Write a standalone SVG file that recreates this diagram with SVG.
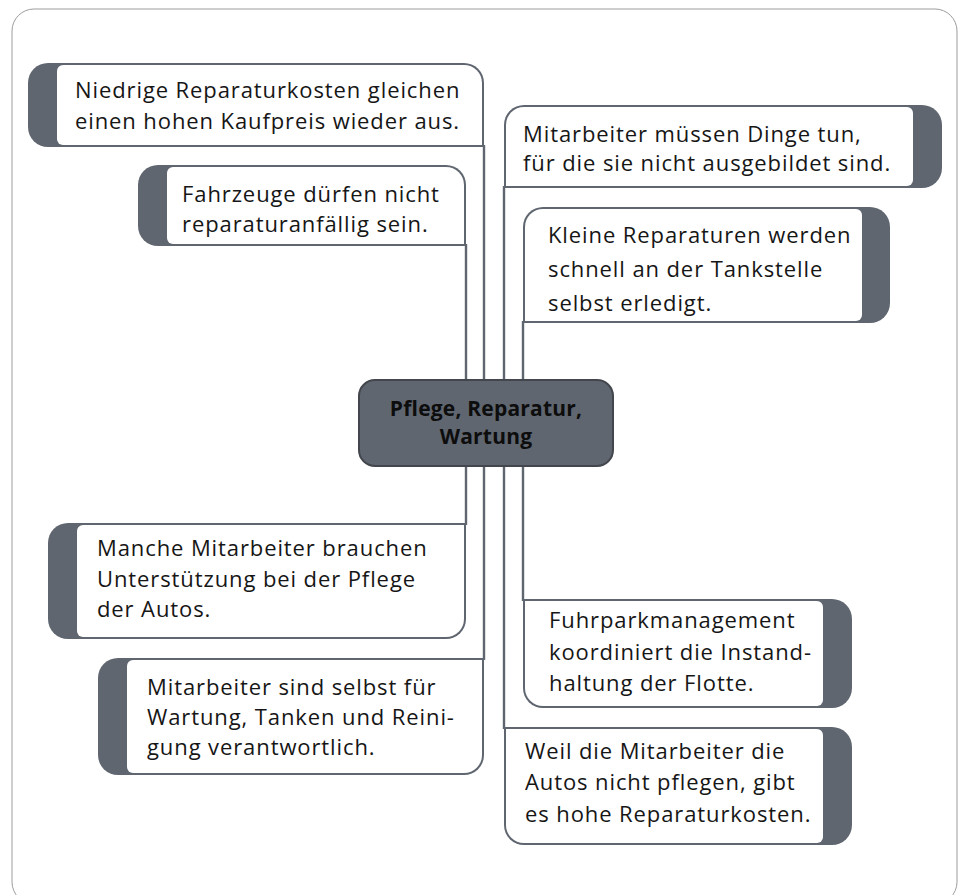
<svg xmlns="http://www.w3.org/2000/svg" width="962" height="895" viewBox="0 0 962 895">
  <style>
    .tab { fill: #5f6670; }
    .face { fill: #ffffff; }
    .wire { stroke: #5f6670; stroke-width: 2.4; fill: none; }
    .txt { font-family: "Open Sans", "Noto Sans", sans-serif; font-size: 22px; letter-spacing: 0.9px; fill: #161616; }
    .hub { fill: #5f6670; stroke: #43474d; stroke-width: 2; }
    .hubtxt { font-family: "Open Sans", "Noto Sans", sans-serif; font-size: 21px; font-weight: bold; letter-spacing: 0.2px; fill: #0d0d0d; text-anchor: middle; }
  </style>

  <!-- outer frame -->
  <rect x="12" y="9" width="945" height="895" rx="22" ry="22" fill="#ffffff" stroke="#9c9c9c" stroke-width="1"/>

  <!-- connectors -->
  <g id="connectors" class="wire">
    <line x1="466" y1="244" x2="466" y2="381"/>
    <line x1="466" y1="465" x2="466" y2="525"/>
    <line x1="484" y1="145" x2="484" y2="381"/>
    <line x1="484" y1="465" x2="484" y2="660"/>
    <line x1="504" y1="186" x2="504" y2="381"/>
    <line x1="504" y1="465" x2="504" y2="729"/>
    <line x1="523" y1="321" x2="523" y2="381"/>
    <line x1="523" y1="465" x2="523" y2="601"/>
  </g>

  <!-- central topic -->
  <g id="center">
    <rect class="hub" x="359" y="380" width="254" height="86" rx="16" ry="16"/>
    <text class="hubtxt" x="486" y="416">Pflege, Reparatur,</text>
    <text class="hubtxt" x="486" y="444">Wartung</text>
  </g>

  <!-- left branches -->
  <g id="node-niedrige">
    <path class="tab" d="M484,147 L484,83 A20,20 0 0 0 464,63 L48,63 A20,20 0 0 0 28,83 L28,127 A20,20 0 0 0 48,147 Z"/>
    <path class="face" d="M482,145 L482,83 A18,18 0 0 0 464,65 L63,65 A6,6 0 0 0 57,71 L57,139 A6,6 0 0 0 63,145 Z"/>
    <text class="txt" x="75" y="98">Niedrige Reparaturkosten gleichen</text>
    <text class="txt" x="75" y="129">einen hohen Kaufpreis wieder aus.</text>
  </g>

  <g id="node-fahrzeuge">
    <path class="tab" d="M466,246 L466,185 A20,20 0 0 0 446,165 L158,165 A20,20 0 0 0 138,185 L138,226 A20,20 0 0 0 158,246 Z"/>
    <path class="face" d="M464,244 L464,185 A18,18 0 0 0 446,167 L173,167 A6,6 0 0 0 167,173 L167,238 A6,6 0 0 0 173,244 Z"/>
    <text class="txt" x="182" y="202">Fahrzeuge dürfen nicht</text>
    <text class="txt" x="182" y="232">reparaturanfällig sein.</text>
  </g>

  <g id="node-manche">
    <path class="tab" d="M466,523 L466,619 A20,20 0 0 1 446,639 L68,639 A20,20 0 0 1 48,619 L48,543 A20,20 0 0 1 68,523 Z"/>
    <path class="face" d="M464,525 L464,619 A18,18 0 0 1 446,637 L83,637 A6,6 0 0 1 77,631 L77,531 A6,6 0 0 1 83,525 Z"/>
    <text class="txt" x="97" y="556">Manche Mitarbeiter brauchen</text>
    <text class="txt" x="97" y="587">Unterstützung bei der Pflege</text>
    <text class="txt" x="97" y="617">der Autos.</text>
  </g>

  <g id="node-selbst">
    <path class="tab" d="M484,658 L484,755 A20,20 0 0 1 464,775 L118,775 A20,20 0 0 1 98,755 L98,678 A20,20 0 0 1 118,658 Z"/>
    <path class="face" d="M482,660 L482,755 A18,18 0 0 1 464,773 L133,773 A6,6 0 0 1 127,767 L127,666 A6,6 0 0 1 133,660 Z"/>
    <text class="txt" x="147" y="695">Mitarbeiter sind selbst für</text>
    <text class="txt" x="147" y="725">Wartung, Tanken und Reini-</text>
    <text class="txt" x="147" y="755">gung verantwortlich.</text>
  </g>

  <!-- right branches -->
  <g id="node-dinge">
    <path class="tab" d="M504,188 L504,125 A20,20 0 0 1 524,105 L922,105 A20,20 0 0 1 942,125 L942,168 A20,20 0 0 1 922,188 Z"/>
    <path class="face" d="M506,186 L506,125 A18,18 0 0 1 524,107 L907,107 A6,6 0 0 1 913,113 L913,180 A6,6 0 0 1 907,186 Z"/>
    <text class="txt" x="523" y="142">Mitarbeiter müssen Dinge tun,</text>
    <text class="txt" x="523" y="171">für die sie nicht ausgebildet sind.</text>
  </g>

  <g id="node-kleine">
    <path class="tab" d="M523,323 L523,227 A20,20 0 0 1 543,207 L870,207 A20,20 0 0 1 890,227 L890,303 A20,20 0 0 1 870,323 Z"/>
    <path class="face" d="M525,321 L525,227 A18,18 0 0 1 543,209 L856,209 A6,6 0 0 1 862,215 L862,315 A6,6 0 0 1 856,321 Z"/>
    <text class="txt" x="548" y="243">Kleine Reparaturen werden</text>
    <text class="txt" x="548" y="277">schnell an der Tankstelle</text>
    <text class="txt" x="548" y="311">selbst erledigt.</text>
  </g>

  <g id="node-fuhrpark">
    <path class="tab" d="M523,599 L832,599 A20,20 0 0 1 852,619 L852,688 A20,20 0 0 1 832,708 L543,708 A20,20 0 0 1 523,688 Z"/>
    <path class="face" d="M525,601 L817,601 A6,6 0 0 1 823,607 L823,700 A6,6 0 0 1 817,706 L543,706 A18,18 0 0 1 525,688 Z"/>
    <text class="txt" x="549" y="628">Fuhrparkmanagement</text>
    <text class="txt" x="549" y="660">koordiniert die Instand-</text>
    <text class="txt" x="549" y="691">haltung der Flotte.</text>
  </g>

  <g id="node-weil">
    <path class="tab" d="M504,727 L832,727 A20,20 0 0 1 852,747 L852,825 A20,20 0 0 1 832,845 L524,845 A20,20 0 0 1 504,825 Z"/>
    <path class="face" d="M506,729 L817,729 A6,6 0 0 1 823,735 L823,837 A6,6 0 0 1 817,843 L524,843 A18,18 0 0 1 506,825 Z"/>
    <text class="txt" x="525" y="759">Weil die Mitarbeiter die</text>
    <text class="txt" x="525" y="790">Autos nicht pflegen, gibt</text>
    <text class="txt" x="525" y="822">es hohe Reparaturkosten.</text>
  </g>
</svg>
